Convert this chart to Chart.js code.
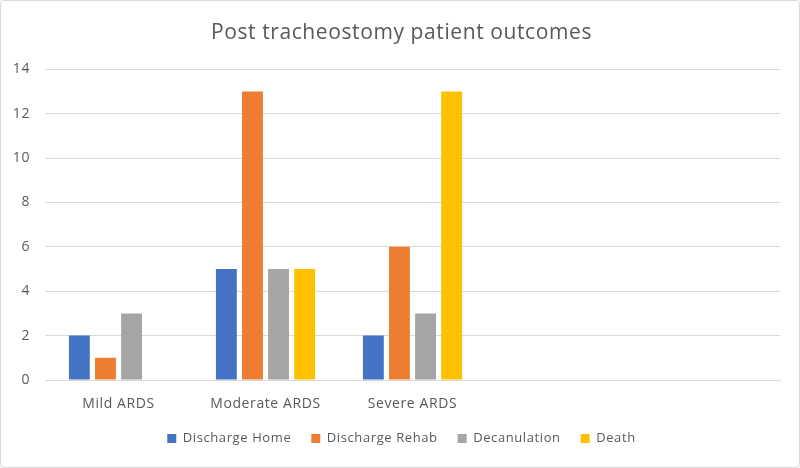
<!DOCTYPE html>
<html>
<head>
<meta charset="utf-8">
<script src="https://cdn.jsdelivr.net/npm/chart.js@4.4.1/dist/chart.umd.min.js"></script>
<style>
    html, body { margin: 0; padding: 0; background: #fff; }
    #wrap { width: 800px; height: 468px; box-sizing: border-box; border: 1px solid #d9d9d9; border-radius: 4px; position: relative; }
    canvas { display: block; }
</style>
</head>
<body>
<div id="wrap"><canvas id="chart" width="798" height="466"></canvas></div>
<script>
const categories = ['Mild ARDS', 'Moderate ARDS', 'Severe ARDS', '', ''];
const dischargeHome = [2, 5, 2, null, null];
const dischargeRehab = [1, 13, 6, null, null];
const decannulation = [3, 5, 3, null, null];
const death = [0, 5, 13, null, null];
const yTicks = [0, 2, 4, 6, 8, 10, 12, 14];

const font = "'Open Sans', 'Noto Sans', sans-serif";
const textColor = '#595959';

// the reference text is set a little wider than Open Sans, so spread the letters
const spacing = {
    id: 'spacing',
    beforeLayout(chart) { chart.ctx.letterSpacing = '0.6px'; },
    afterLayout(chart) {
        // let the tick labels hang outside their axis boxes without being clipped
        chart.scales.x.bottom = chart.scales.x.top + 40;
        chart.scales.y.left = 0;
    },
    beforeDraw(chart) { chart.ctx.letterSpacing = '0.6px'; }
};

const ctx = document.getElementById('chart').getContext('2d');
new Chart(ctx, {
    type: 'bar',
    data: {
        labels: categories,
        datasets: [
            { label: 'Discharge Home', data: dischargeHome, backgroundColor: '#4472c4' },
            { label: 'Discharge Rehab', data: dischargeRehab, backgroundColor: '#ed7d31' },
            { label: 'Decanulation', data: decannulation, backgroundColor: '#a5a5a5' },
            { label: 'Death', data: death, backgroundColor: '#ffc000' }
        ]
    },
    plugins: [spacing],
    options: {
        responsive: false,
        animation: false,
        devicePixelRatio: 1,
        categoryPercentage: 0.71,
        barPercentage: 0.8,
        layout: { padding: { left: 16, right: 13, top: 10, bottom: 12 } },
        plugins: {
            title: {
                display: true,
                text: 'Post tracheostomy patient outcomes',
                color: textColor,
                font: { family: font, size: 21, weight: 'normal' },
                padding: { top: 9, bottom: 24 }
            },
            legend: {
                position: 'bottom',
                labels: {
                    color: textColor,
                    font: { family: font, size: 13 },
                    boxWidth: 9,
                    boxHeight: 9,
                    padding: 20
                }
            },
            tooltip: { enabled: false }
        },
        scales: {
            x: {
                afterFit: axis => { axis.height = 32; },
                grid: { display: false },
                border: { color: '#d9d9d9' },
                ticks: { color: textColor, font: { family: font, size: 14 }, padding: 8 }
            },
            y: {
                min: 0,
                max: 14,
                afterBuildTicks: axis => { axis.ticks = yTicks.map(v => ({ value: v })); },
                afterFit: axis => { axis.width = 28; },
                grid: { color: '#d9d9d9', drawTicks: false },
                border: { display: false },
                ticks: { color: textColor, font: { family: font, size: 14 }, padding: 15 }
            },
            // empty strip on the right so the plot ends where the reference does
            yRight: {
                position: 'right',
                afterFit: axis => { axis.width = 6; },
                grid: { display: false },
                border: { display: false },
                ticks: { display: false }
            }
        }
    }
});
</script>
</body>
</html>
